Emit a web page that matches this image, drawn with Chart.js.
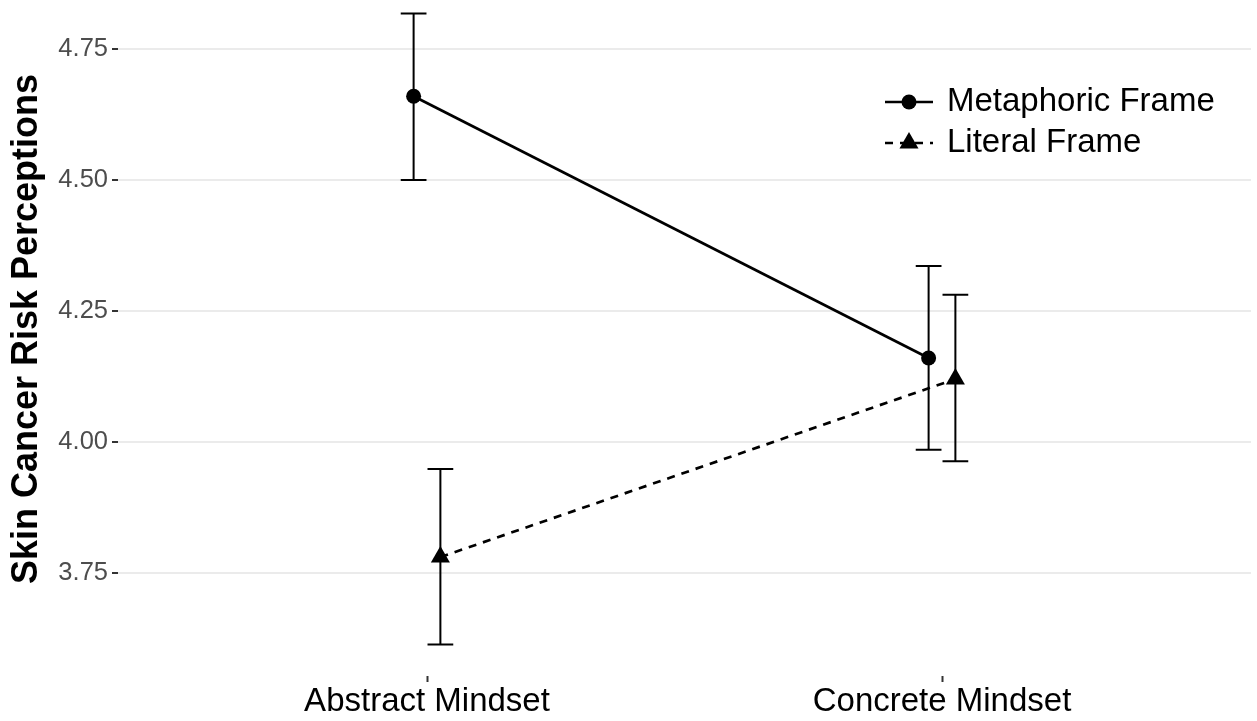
<!DOCTYPE html>
<html>
<head>
<meta charset="utf-8">
<script src="https://cdn.jsdelivr.net/npm/chart.js@4.4.1/dist/chart.umd.min.js"></script>
<style>
  html, body { margin: 0; padding: 0; background: #fff; overflow: hidden; width: 1257px; height: 721px; }
  #wrap { position: relative; width: 1257px; height: 721px; overflow: hidden; }
  #c { position: absolute; left: 0; top: -18px; }
</style>
</head>
<body>
<div id="wrap"><canvas id="c" width="1257" height="739"></canvas></div>
<script>
// Mean risk perception by mindset and frame, with error bar limits
const categories = ['Abstract Mindset', 'Concrete Mindset'];
const seriesNames = ['Metaphoric Frame', 'Literal Frame'];
const metaphoricMean = [4.66, 4.16];
const metaphoricLower = [4.50, 3.985];
const metaphoricUpper = [4.818, 4.336];
const literalMean = [3.78, 4.12];
const literalLower = [3.613, 3.963];
const literalUpper = [3.948, 4.281];
const yTicks = [3.75, 4.00, 4.25, 4.50, 4.75];
const yTitle = 'Skin Cancer Risk Perceptions';

const FONT = "'Liberation Sans', Arial, Helvetica, sans-serif";
const DODGE = 0.026;      // horizontal offset of each frame around its category
const CAP = 0.05;         // error bar cap width, in category units
const DASH = [8, 7];

function toPoints(means, lower, upper, shift) {
  return means.map((m, i) => ({ x: i + 1 + shift, y: m, lo: lower[i], hi: upper[i] }));
}

const errorBars = {
  id: 'errorBars',
  beforeDatasetsDraw(chart) {
    const { ctx, scales: { x, y } } = chart;
    ctx.save();
    ctx.strokeStyle = '#000';
    ctx.lineWidth = 2;
    ctx.setLineDash([]);
    chart.data.datasets.forEach(ds => {
      ds.data.forEach(d => {
        const px = x.getPixelForValue(d.x);
        const xl = x.getPixelForValue(d.x - CAP / 2);
        const xr = x.getPixelForValue(d.x + CAP / 2);
        const yl = y.getPixelForValue(d.lo);
        const yh = y.getPixelForValue(d.hi);
        ctx.beginPath();
        ctx.moveTo(px, yh); ctx.lineTo(px, yl);
        ctx.moveTo(xl, yh); ctx.lineTo(xr, yh);
        ctx.moveTo(xl, yl); ctx.lineTo(xr, yl);
        ctx.stroke();
      });
    });
    ctx.restore();
  }
};

const keyLegend = {
  id: 'keyLegend',
  afterDraw(chart) {
    const { ctx, chartArea } = chart;
    const left = chartArea.right - 366;
    const keyW = 48;
    chart.data.datasets.forEach((ds, i) => {
      const yy = chartArea.top + 120 + i * 41;
      ctx.save();
      ctx.strokeStyle = ds.borderColor;
      ctx.lineWidth = ds.borderWidth;
      ctx.setLineDash(ds.borderDash || []);
      ctx.beginPath();
      ctx.moveTo(left, yy);
      ctx.lineTo(left + keyW, yy);
      ctx.stroke();
      ctx.setLineDash([]);
      ctx.fillStyle = ds.pointBackgroundColor;
      Chart.helpers.drawPoint(ctx, {
        pointStyle: ds.pointStyle, radius: ds.pointRadius, borderWidth: 0, rotation: 0
      }, left + keyW / 2, yy);
      ctx.fillStyle = '#000';
      ctx.font = `33px ${FONT}`;
      ctx.textBaseline = 'middle';
      ctx.textAlign = 'left';
      ctx.fillText(ds.label, left + 62, yy);
      ctx.restore();
    });
  }
};

new Chart(document.getElementById('c'), {
  type: 'line',
  data: {
    datasets: [
      {
        label: seriesNames[0],
        data: toPoints(metaphoricMean, metaphoricLower, metaphoricUpper, -DODGE),
        borderColor: '#000',
        borderWidth: 2.7,
        pointStyle: 'circle',
        pointRadius: 7.5,
        pointHoverRadius: 7.5,
        pointBackgroundColor: '#000',
        pointBorderWidth: 0
      },
      {
        label: seriesNames[1],
        data: toPoints(literalMean, literalLower, literalUpper, DODGE),
        borderColor: '#000',
        borderWidth: 2.7,
        borderDash: DASH,
        pointStyle: 'triangle',
        pointRadius: 11,
        pointHoverRadius: 11,
        pointBackgroundColor: '#000',
        pointBorderWidth: 0
      }
    ]
  },
  options: {
    responsive: false,
    animation: false,
    layout: { autoPadding: false, padding: { left: 0, right: 6, top: 0, bottom: 0 } },
    plugins: { legend: { display: false }, tooltip: { enabled: false } },
    scales: {
      x: {
        type: 'linear',
        min: 0.4,
        max: 2.6,
        afterBuildTicks: s => { s.ticks = categories.map((c, i) => ({ value: i + 1 })); },
        ticks: {
          callback: v => categories[v - 1] ?? '',
          font: { family: FONT, size: 33, lineHeight: 1 },
          color: '#000',
          padding: 3,
          maxRotation: 0,
          autoSkip: false
        },
        grid: { drawOnChartArea: false, drawTicks: true, tickLength: 6, tickColor: '#333333', tickWidth: 2 },
        border: { display: false },
        afterFit: s => { s.height = 45; s.paddingLeft = 0; s.paddingRight = 0; }
      },
      y: {
        min: 3.553,
        max: 4.878,
        afterBuildTicks: s => { s.ticks = yTicks.map(v => ({ value: v })); },
        ticks: {
          callback: v => Number(v).toFixed(2),
          font: { family: FONT, size: 25.5 },
          color: '#4D4D4D',
          padding: 4
        },
        grid: { color: '#EBEBEB', lineWidth: 2, tickLength: 6, tickColor: '#333333', tickWidth: 2 },
        border: { display: false },
        title: {
          display: true,
          text: yTitle,
          color: '#000',
          font: { family: FONT, size: 36, weight: 'bold' },
          padding: { top: 5, bottom: 0 }
        },
        afterFit: s => { s.width = 118; s.paddingTop = 0; s.paddingBottom = 0; }
      }
    }
  },
  plugins: [errorBars, keyLegend]
});
</script>
</body>
</html>
